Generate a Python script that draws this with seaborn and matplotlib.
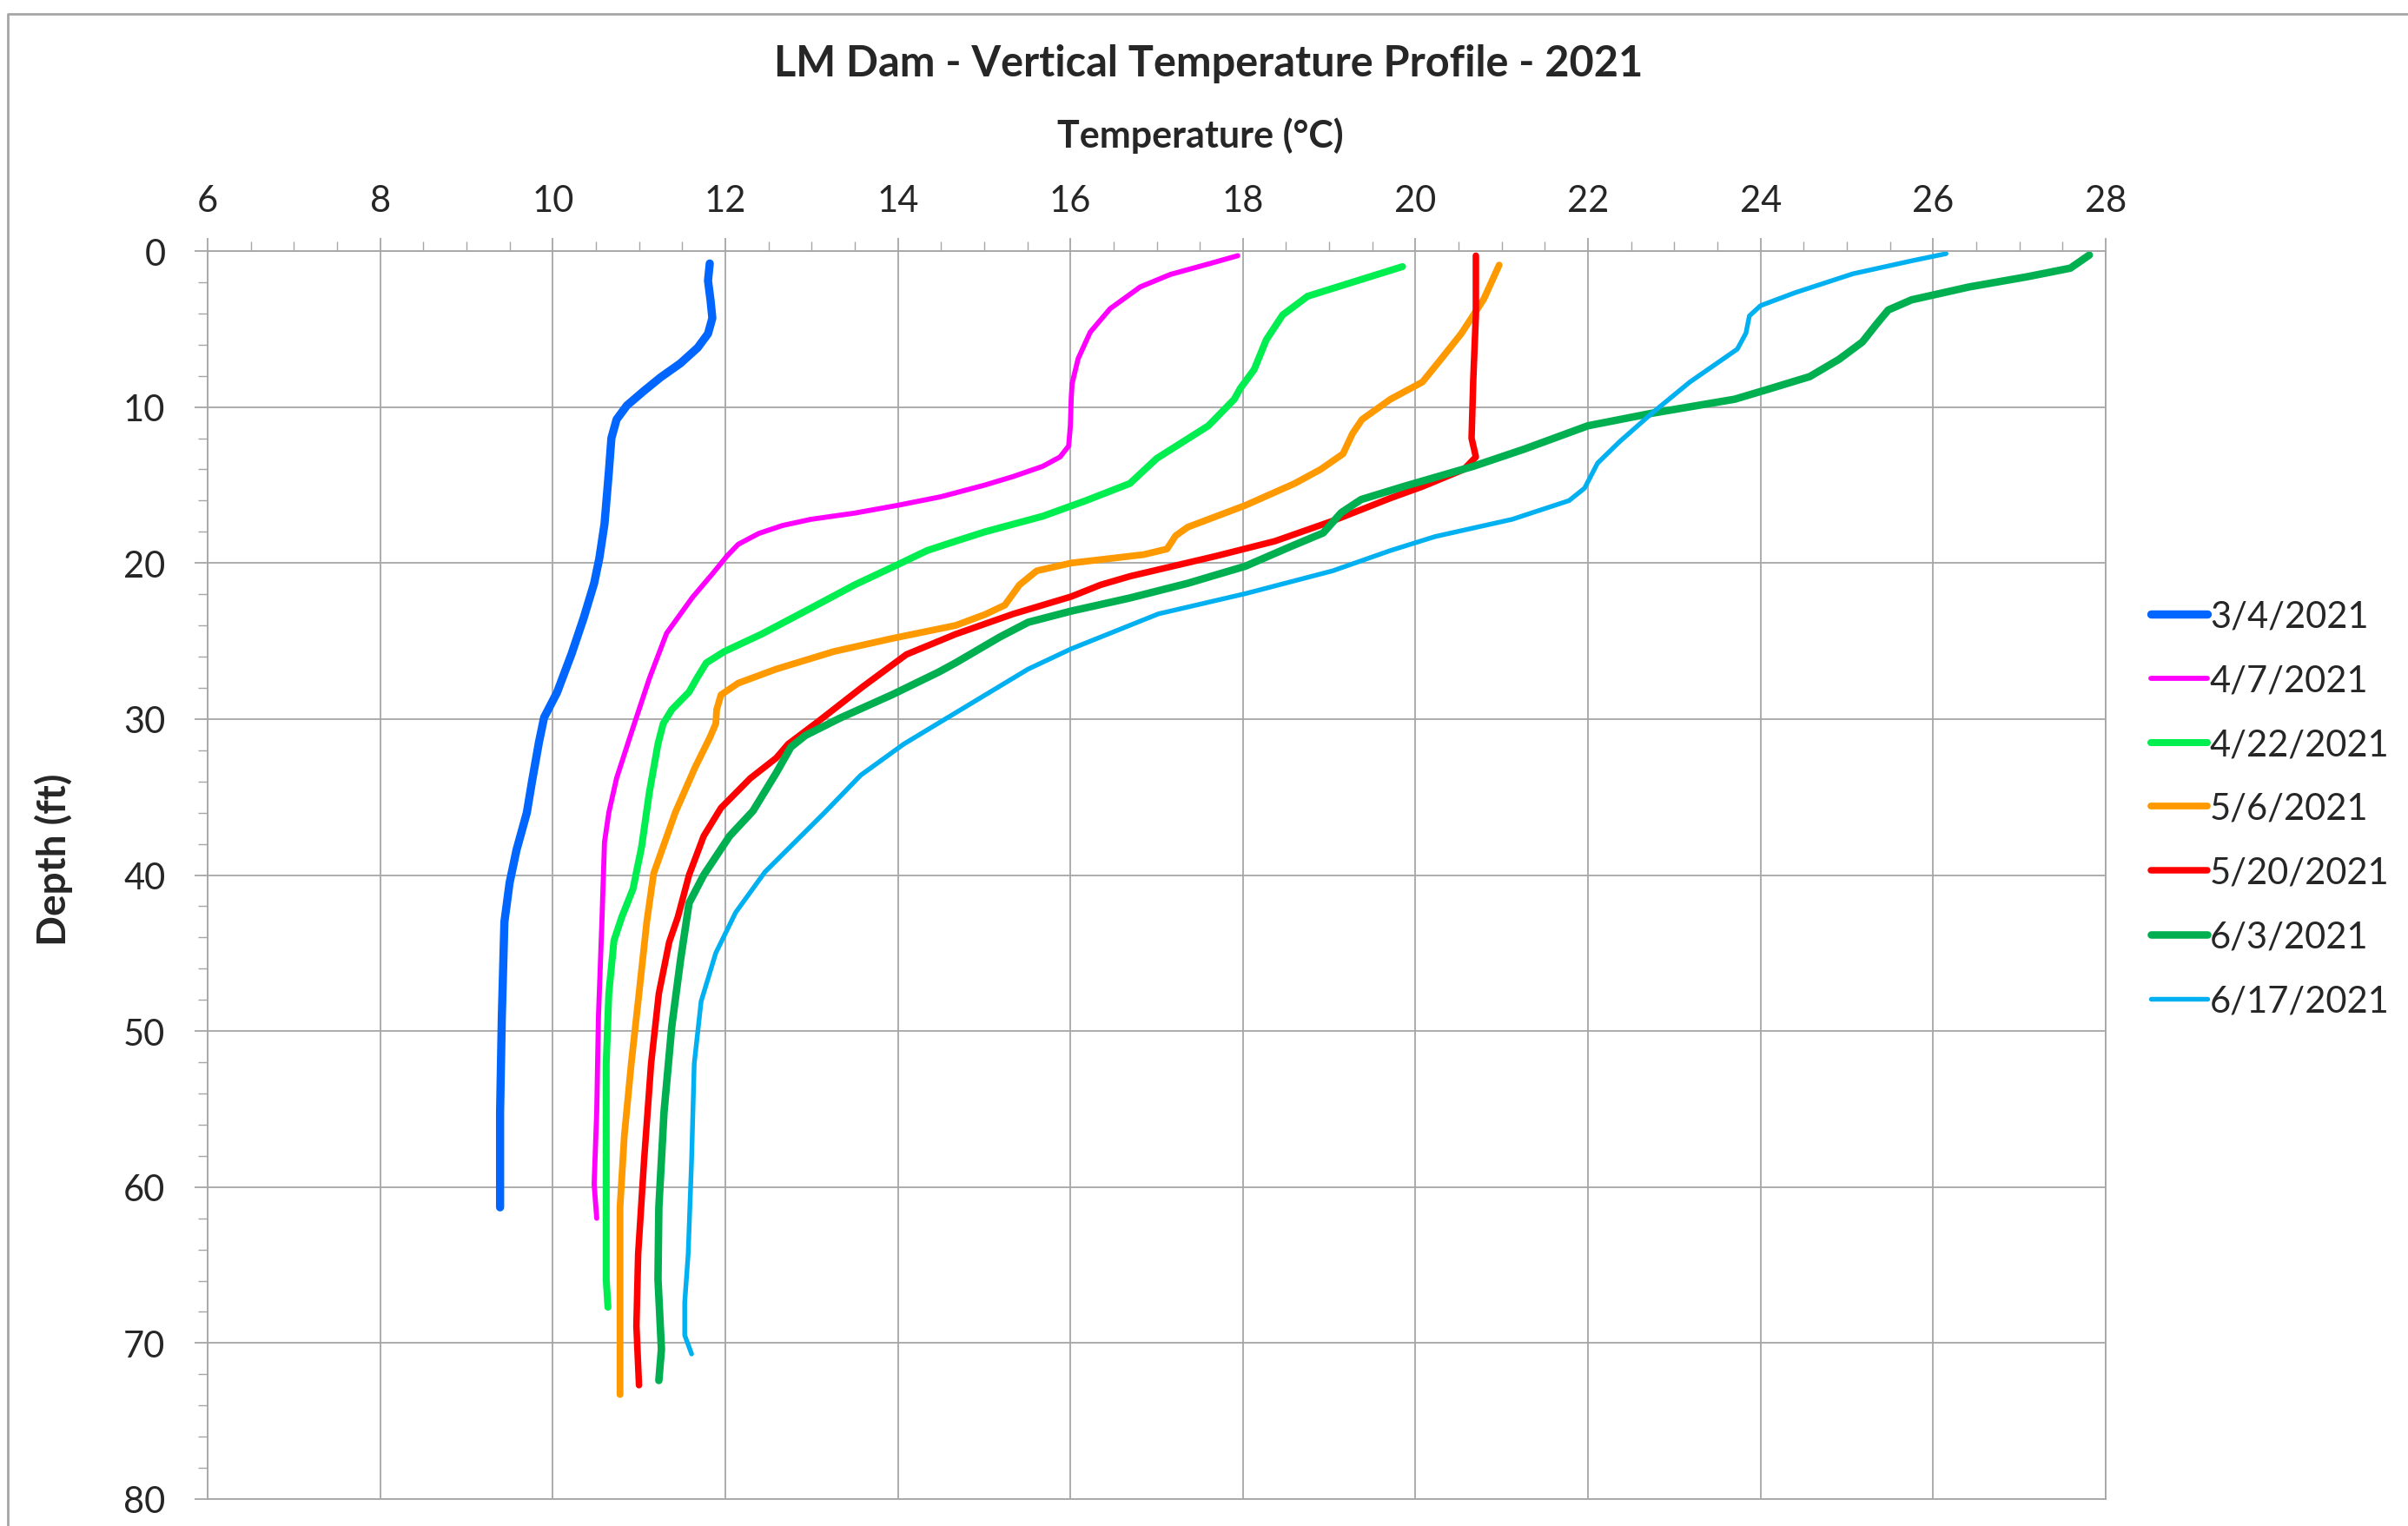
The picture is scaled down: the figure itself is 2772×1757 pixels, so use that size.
import numpy as np
import pandas as pd
import seaborn as sns
import matplotlib.pyplot as plt
from matplotlib.lines import Line2D
from matplotlib.ticker import MultipleLocator

# profile readings: depth (ft) and temperature (C) per survey date
dates = ["3/4/2021", "4/7/2021", "4/22/2021", "5/6/2021", "5/20/2021", "6/3/2021", "6/17/2021"]

depth_0304 = [0.8, 1.9, 3.2, 4.3, 5.3, 6.2, 7.2, 8.1, 9.0, 9.9, 10.8, 12.0, 14.2, 17.5, 19.7, 21.3, 23.5,
              25.8, 28.3, 29.9, 31.5, 34.0, 36.0, 38.4, 40.5, 43.0, 49.1, 55.2, 61.3]
temp_0304 = [11.82, 11.80, 11.83, 11.85, 11.80, 11.68, 11.48, 11.25, 11.05, 10.86, 10.74, 10.68, 10.65,
             10.60, 10.54, 10.48, 10.36, 10.22, 10.05, 9.90, 9.84, 9.76, 9.70, 9.58, 9.50, 9.44, 9.41,
             9.39, 9.39]

depth_0407 = [0.3, 0.8, 1.5, 2.3, 3.7, 5.2, 6.9, 8.5, 9.4, 11.2, 12.5, 13.2, 13.8, 14.45, 15.0, 15.75,
              16.3, 16.8, 17.2, 17.6, 18.1, 18.8, 19.55, 20.7, 22.2, 24.5, 27.4, 30.9, 33.8, 36.0, 37.9,
              43.0, 49.1, 55.2, 59.8, 62.0]
temp_0407 = [17.94, 17.62, 17.16, 16.81, 16.46, 16.23, 16.09, 16.02, 16.01, 16.00, 15.98, 15.88, 15.68,
             15.34, 15.01, 14.50, 14.00, 13.50, 12.99, 12.66, 12.39, 12.15, 12.02, 11.85, 11.62, 11.32,
             11.12, 10.91, 10.74, 10.65, 10.60, 10.57, 10.53, 10.51, 10.48, 10.51]

depth_0422 = [1.0, 2.0, 2.9, 4.1, 5.7, 7.6, 8.8, 9.5, 11.2, 13.3, 14.9, 16.0, 17.0, 18.0, 18.6, 19.2,
              20.1, 21.4, 22.9, 24.56, 25.67, 26.4, 27.3, 28.27, 29.4, 30.3, 31.6, 34.7, 38.2, 40.9,
              42.7, 44.2, 47.6, 52.1, 58.2, 65.9, 67.7]
temp_0422 = [19.85, 19.27, 18.75, 18.46, 18.27, 18.13, 17.97, 17.90, 17.60, 17.00, 16.69, 16.18, 15.68,
             15.01, 14.67, 14.34, 14.00, 13.50, 12.99, 12.42, 11.99, 11.78, 11.68, 11.58, 11.38, 11.28,
             11.22, 11.12, 11.03, 10.93, 10.80, 10.71, 10.65, 10.62, 10.62, 10.62, 10.64]

depth_0506 = [0.9, 3.1, 5.3, 6.9, 8.4, 9.5, 10.8, 11.7, 13.0, 14.0, 14.9, 16.3, 17.7, 18.25, 19.1,
              19.46, 20.0, 20.5, 21.4, 22.7, 23.3, 24.0, 24.84, 25.67, 26.8, 27.7, 28.45, 29.4, 30.3,
              31.2, 33.1, 36.0, 39.9, 43.0, 47.6, 52.1, 56.7, 61.3, 67.4, 73.3]
temp_0506 = [20.97, 20.79, 20.53, 20.30, 20.08, 19.71, 19.38, 19.27, 19.16, 18.90, 18.60, 18.03, 17.36,
             17.22, 17.12, 16.85, 16.01, 15.61, 15.41, 15.24, 15.01, 14.67, 13.93, 13.26, 12.59, 12.15,
             11.95, 11.90, 11.89, 11.82, 11.65, 11.42, 11.17, 11.09, 11.00, 10.91, 10.83, 10.78, 10.78,
             10.78]

depth_0520 = [0.3, 4.1, 8.2, 12.0, 13.2, 14.0, 15.1, 15.84, 17.3, 18.6, 19.55, 20.85, 21.4, 22.15,
              23.26, 24.56, 25.86, 27.9, 30.1, 31.6, 32.5, 33.8, 35.7, 37.5, 40.0, 42.7, 44.3, 47.6,
              52.1, 58.2, 64.3, 68.9, 72.7]
temp_0520 = [20.70, 20.70, 20.67, 20.65, 20.70, 20.56, 20.08, 19.71, 19.04, 18.37, 17.69, 16.69, 16.35,
             16.01, 15.34, 14.67, 14.10, 13.60, 13.09, 12.73, 12.59, 12.29, 11.95, 11.75, 11.58, 11.45,
             11.35, 11.23, 11.14, 11.06, 10.99, 10.97, 11.00]

depth_0603 = [0.26, 1.1, 1.65, 2.3, 3.13, 3.78, 4.71, 5.83, 6.94, 8.05, 8.89, 9.5, 10.4, 11.2, 12.7,
              13.8, 15.1, 15.93, 16.77, 18.07, 19.0, 20.2, 21.3, 22.24, 23.08, 23.8, 24.75, 26.4, 27.0,
              28.45, 29.94, 31.05, 31.8, 33.46, 35.9, 37.5, 40.0, 41.8, 45.5, 49.7, 55.2, 61.3, 65.9,
              70.4, 72.4]
temp_0603 = [27.81, 27.59, 27.09, 26.42, 25.75, 25.48, 25.34, 25.18, 24.91, 24.57, 24.07, 23.70, 22.74,
             22.00, 21.26, 20.67, 19.86, 19.37, 19.14, 18.93, 18.53, 18.03, 17.36, 16.69, 16.01, 15.51,
             15.18, 14.67, 14.47, 13.93, 13.33, 12.93, 12.76, 12.59, 12.32, 12.05, 11.75, 11.58, 11.48,
             11.38, 11.29, 11.23, 11.22, 11.26, 11.23]

depth_0617 = [0.17, 0.63, 1.46, 2.67, 3.5, 4.16, 5.27, 6.29, 8.4, 10.4, 12.2, 13.6, 15.2, 16.0, 17.2,
              18.3, 19.2, 20.5, 21.96, 23.26, 25.5, 26.8, 29.6, 31.6, 33.6, 36.0, 39.8, 42.4, 45.0,
              48.1, 52.1, 58.2, 64.3, 67.4, 69.5, 70.7]
temp_0617 = [26.15, 25.75, 25.07, 24.40, 24.00, 23.87, 23.83, 23.73, 23.18, 22.74, 22.37, 22.11, 21.96,
             21.78, 21.12, 20.23, 19.71, 19.04, 18.03, 17.02, 16.01, 15.51, 14.67, 14.07, 13.57, 13.15,
             12.46, 12.12, 11.89, 11.72, 11.64, 11.61, 11.57, 11.53, 11.53, 11.61]

depths = [depth_0304, depth_0407, depth_0422, depth_0506, depth_0520, depth_0603, depth_0617]
temps = [temp_0304, temp_0407, temp_0422, temp_0506, temp_0520, temp_0603, temp_0617]

colors = ["#0066FF", "#FF00FF", "#00EE50", "#FF9900", "#FF0000", "#00B050", "#00B0F0"]
widths = [6.8, 4.2, 5.8, 5.6, 5.4, 6.2, 3.9]

sns.set_style("white")
plt.rcParams['font.family'] = ['Lato', 'DejaVu Sans']

fig = plt.figure(figsize=(27.72, 17.58), dpi=100)
ax = fig.add_axes([239 / 2772, 1 - 1727 / 1758, 2185 / 2772, 1437 / 1758])

for i in range(len(dates)):
    df = pd.DataFrame({"temp": temps[i], "depth": depths[i]})
    sns.lineplot(data=df, x="temp", y="depth", sort=False, estimator=None, ax=ax,
                 color=colors[i], linewidth=widths[i], label=dates[i],
                 solid_capstyle="round", solid_joinstyle="round")

ax.set_xlim(6, 28)
ax.set_ylim(80, 0)
ax.xaxis.tick_top()
ax.xaxis.set_label_position("top")
ax.xaxis.set_major_locator(MultipleLocator(2))
ax.xaxis.set_minor_locator(MultipleLocator(0.5))
ax.yaxis.set_major_locator(MultipleLocator(10))
ax.yaxis.set_minor_locator(MultipleLocator(2))
ax.grid(True, which="major", color="#A6A6A6", linewidth=1.3)
ax.tick_params(which="major", direction="out", length=11, width=1.3, color="#A6A6A6",
               labelsize=30, top=True, bottom=False, left=True)
ax.tick_params(axis="x", which="major", pad=17)
ax.tick_params(axis="y", which="major", pad=24)
ax.tick_params(which="minor", direction="out", length=8, width=1.0, color="#A6A6A6",
               top=True, bottom=False, left=True)
for s in ax.spines.values():
    s.set_color("#A6A6A6")
    s.set_linewidth(1.3)

ax.set_xlabel("Temperature (°C)", fontsize=31, fontweight="bold", va="center")
ax.xaxis.set_label_coords(0.523, 1.093)
ax.set_ylabel("Depth (ft)", fontsize=33, fontweight="bold", va="center")
ax.yaxis.set_label_coords(-0.081, 0.513)
fig.text(1391 / 2772, 1 - 74 / 1758, "LM Dam - Vertical Temperature Profile - 2021",
         fontsize=35, fontweight="bold", ha="center", va="center")

ax.legend(loc="center left", bbox_to_anchor=(2476 / 2772, 1 - 932 / 1758),
          bbox_transform=fig.transFigure, frameon=False, fontsize=30,
          handlelength=1.55, handletextpad=0.08, labelspacing=0.86, borderpad=0, borderaxespad=0)

# outer chart border
fig.add_artist(Line2D([9 / 2772, 9 / 2772, 1], [0, 1 - 17 / 1758, 1 - 17 / 1758],
                      transform=fig.transFigure, color="#A6A6A6", linewidth=2))

fig.savefig("out.png", dpi=100)
